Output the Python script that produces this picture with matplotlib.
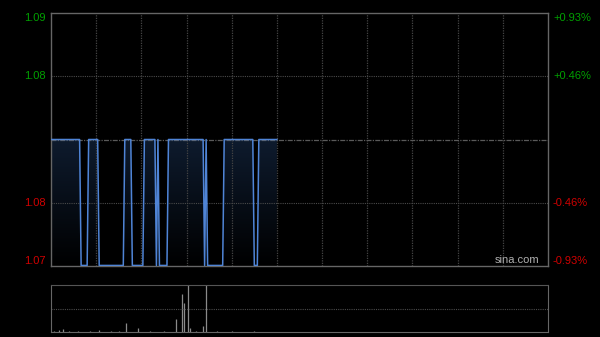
import numpy as np
import matplotlib
matplotlib.use('Agg')
import matplotlib.pyplot as plt
from matplotlib.colors import LinearSegmentedColormap

plt.rcParams['font.family'] = ['Liberation Sans', 'DejaVu Sans']

# price vertices (minute index from 9:30, price)
price_min = [0, 19, 20, 24, 25, 31, 32, 48, 49, 53, 54, 61, 62, 69, 70, 71, 72, 77, 78,
             101, 102, 103, 104, 114, 115, 134, 135, 137, 138, 150]
price_val = [1.08, 1.08, 1.07, 1.07, 1.08, 1.08, 1.07, 1.07, 1.08, 1.08, 1.07, 1.07, 1.08, 1.08,
             1.07, 1.08, 1.07, 1.07, 1.08, 1.08, 1.07, 1.08, 1.07, 1.07, 1.08, 1.08, 1.07, 1.07,
             1.08, 1.08]

# volume bars (minute index, relative volume)
vol_min = [2, 5, 8, 12, 18, 26, 32, 40, 45, 50, 58, 66, 75, 83, 87, 88, 91, 92, 96, 101, 103, 110, 120, 135]
vol_val = [1.5, 5, 6, 1.5, 1.5, 1.5, 4, 1.5, 1.5, 19, 9, 1.5, 1.5, 27, 81, 62, 100, 8, 1.5, 13, 100, 1.5, 1.5, 1.5]

prev_close = 1.08
pct = 0.0093
left_labels = ['1.09', '1.08', '', '1.08', '1.07']
right_labels = ['+0.93%', '+0.46%', '', '-0.46%', '-0.93%']
total_min = 330

top = prev_close * (1 + pct)
bot = prev_close * (1 - pct)
levels = np.linspace(top, bot, 5)

fig = plt.figure(figsize=(6, 3.37), dpi=100, facecolor='black')
ax = fig.add_axes([0.085, 0.2107, 0.8283, 0.7507], facecolor='black')
axv = fig.add_axes([0.085, 0.0148, 0.8283, 0.1395], facecolor='black')

ax.set_xlim(0, total_min)
ax.set_ylim(bot, top)

# grid
for m in range(30, total_min, 30):
    ax.axvline(m, color='#444444', lw=0.9, ls=(0, (1, 1)))
for lv in [levels[1], levels[3]]:
    ax.axhline(lv, color='#4a4a4a', lw=0.8, ls=(0, (1, 1)))
ax.axhline(prev_close, color='#5a5a5a', lw=0.9, ls=(0, (4, 1, 1, 1)))

# gradient fill under price line
xs = np.array(price_min, dtype=float)
ys = np.array(price_val)
poly_x = np.concatenate([xs, [xs[-1], xs[0]]])
poly_y = np.concatenate([ys, [bot, bot]])
fill = ax.fill(poly_x, poly_y, facecolor='none', edgecolor='none')[0]
cmap = LinearSegmentedColormap.from_list('g', ['#000000', '#0e1b2e'])
grad = np.linspace(0, 1, 256).reshape(-1, 1)
im = ax.imshow(grad, aspect='auto', cmap=cmap, origin='lower',
               extent=[0, total_min, bot, prev_close], zorder=1)
im.set_clip_path(fill)

ax.plot(price_min, price_val, color='#4f84d6', lw=1.1, zorder=3)

for s in ax.spines.values():
    s.set_color('#666666')
    s.set_linewidth(1)
ax.set_xticks([])
ax.set_yticks([])

# axis labels
for i, (lv, lt, rt) in enumerate(zip(levels, left_labels, right_labels)):
    if lt == '':
        continue
    col = '#00a000' if lv > prev_close else '#d00000'
    va = 'center'
    if i == 0:
        va = 'top'
    elif i == len(levels) - 1:
        va = 'bottom'
    ax.text(-0.01 * total_min, lv, lt, color=col, fontsize=8, ha='right', va=va, clip_on=False)
    ax.text(total_min * 1.01, lv, rt, color=col, fontsize=8, ha='left', va=va, clip_on=False)

ax.text(0.982, 0.005, 'sina.com', color='#b0b0b0', fontsize=8, ha='right', va='bottom',
        transform=ax.transAxes)

# volume panel
axv.set_xlim(0, total_min)
axv.set_ylim(0, 100)
axv.vlines(vol_min, 0, vol_val, color='#8a8a8a', lw=0.9)
axv.axhline(50, color='#4a4a4a', lw=0.8, ls=(0, (1, 1)))
for k in ['left', 'right', 'bottom']:
    axv.spines[k].set_color('#666666')
axv.spines['top'].set_color('#555555')
axv.spines['top'].set_linestyle((0, (1, 1)))
axv.set_xticks([])
axv.set_yticks([])

fig.savefig('out.png', dpi=100, facecolor='black')
